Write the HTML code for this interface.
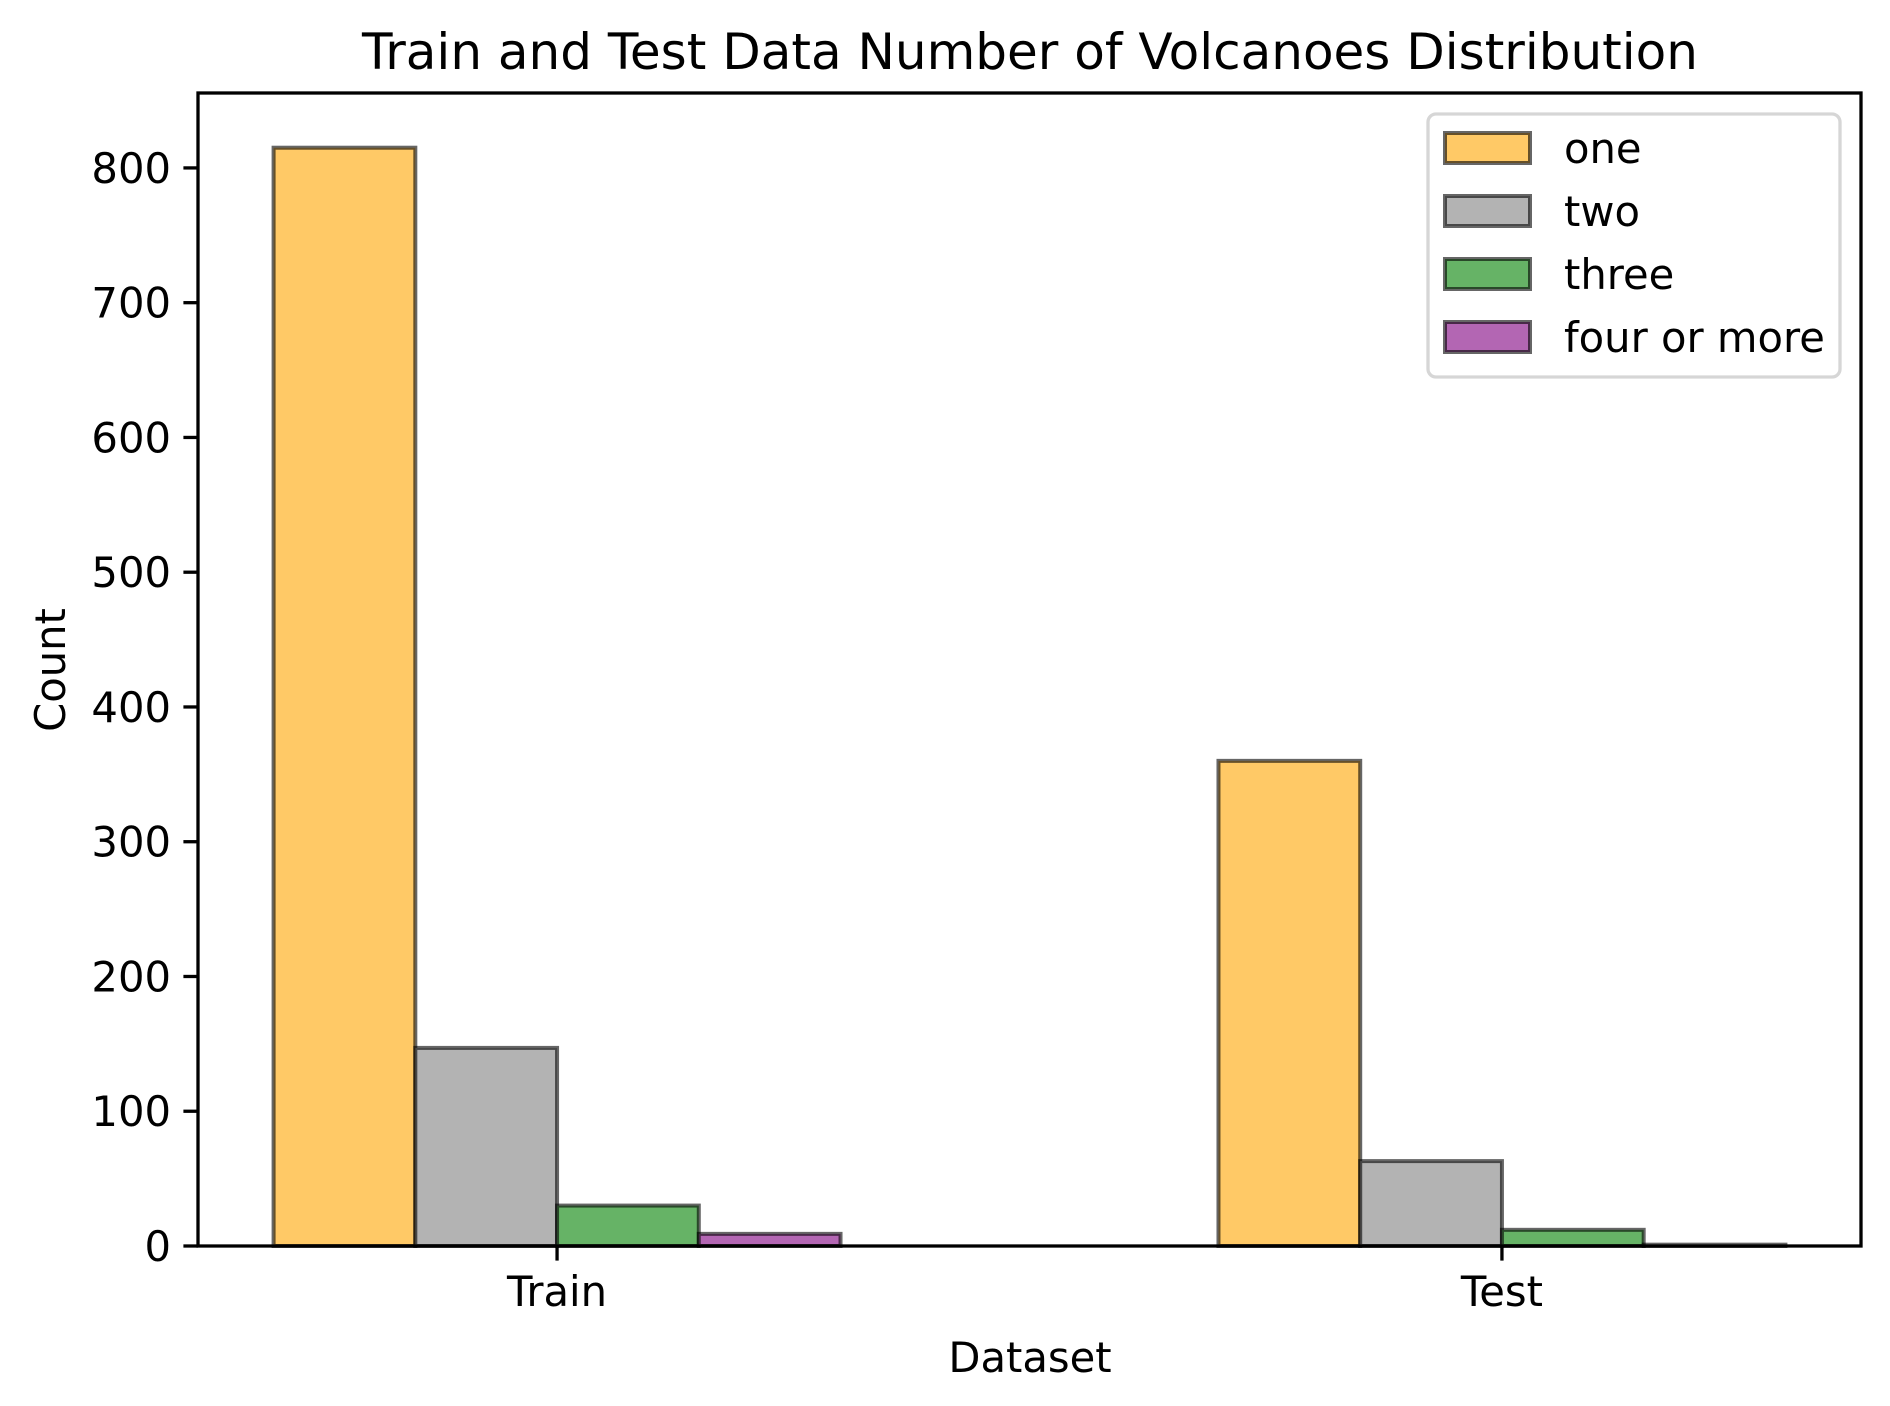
<!DOCTYPE html>
<html><head><meta charset="utf-8"><style>
html,body{margin:0;padding:0;background:#fff}
svg{display:block;font-family:"DejaVu Sans","Liberation Sans",sans-serif}
</style></head><body>
<svg id="chart" width="1890" height="1406" viewBox="0 0 1890 1406">
<text x="1030" y="69" font-size="50" text-anchor="middle">Train and Test Data Number of Volcanoes Distribution</text>
<g id="bars"></g>
<g id="yticks"></g>
<g id="xticks"></g>
<rect x="198" y="93" width="1663" height="1153" fill="none" stroke="#000" stroke-width="3.3"/>
<text x="1030" y="1372" font-size="41.7" text-anchor="middle">Dataset</text>
<text transform="translate(65,670) rotate(-90)" font-size="41.7" text-anchor="middle">Count</text>
<g id="legend">
<rect x="1428" y="114" width="412" height="263" rx="8" fill="#fff" fill-opacity="0.8" stroke="#d6d6d6" stroke-width="3.3"/>
</g>
</svg>
<script>
const categories = ["Train", "Test"];
const seriesNames = ["one", "two", "three", "four or more"];
const seriesOne = [815, 360];
const seriesTwo = [147, 63];
const seriesThree = [30, 12];
const seriesFour = [9, 1];
const yTicks = [0, 100, 200, 300, 400, 500, 600, 700, 800];

const allSeries = [seriesOne, seriesTwo, seriesThree, seriesFour];
const fills = ["#ffc966", "#b3b3b3", "#66b366", "#b366b3"];
const NS = "http://www.w3.org/2000/svg";
const plotLeft = 198, plotRight = 1861, plotTop = 93, plotBottom = 1246;
const xMin = -0.38, xMax = 1.38, yMax = 855.6, bw = 0.15;
const xs = v => plotLeft + (v - xMin) / (xMax - xMin) * (plotRight - plotLeft);
const ys = v => plotBottom - v / yMax * (plotBottom - plotTop);
function mk(tag, attrs, parent) {
  const e = document.createElementNS(NS, tag);
  for (const k in attrs) e.setAttribute(k, attrs[k]);
  parent.appendChild(e);
  return e;
}
const gBars = document.getElementById('bars');
allSeries.forEach((s, si) => {
  s.forEach((v, ci) => {
    const x0 = xs(ci + (si - 2) * bw), x1 = xs(ci + (si - 1) * bw);
    const r = mk('rect', {x: x0, y: ys(v), width: x1 - x0, height: ys(0) - ys(v), fill: fills[si], stroke: "rgba(0,0,0,0.6)", "stroke-width": 4}, gBars);
    
    
  });
});
const gY = document.getElementById('yticks');
yTicks.forEach(t => {
  const l = mk('line', {x1: plotLeft - 14.6, x2: plotLeft, y1: ys(t), y2: ys(t), stroke: "#000", "stroke-width": 3.3}, gY);
  
  
  const tx = mk('text', {x: plotLeft - 27, y: ys(t) + 15, "font-size": 41.7, "text-anchor": "end"}, gY);
  tx.textContent = t;
  
  
});
const gX = document.getElementById('xticks');
categories.forEach((c, i) => {
  const l = mk('line', {x1: xs(i), x2: xs(i), y1: plotBottom, y2: plotBottom + 14.6, stroke: "#000", "stroke-width": 3.3}, gX);
  
  
  const tx = mk('text', {x: xs(i), y: 1306, "font-size": 41.7, "text-anchor": "middle"}, gX);
  tx.textContent = c;
  
  
});
const gL = document.getElementById('legend');
seriesNames.forEach((n, i) => {
  const yy = 133 + i * 63;
  const p = mk('rect', {x: 1445, y: yy, width: 85, height: 30, fill: fills[i], stroke: "rgba(0,0,0,0.6)", "stroke-width": 4}, gL);
  
  
  const tx = mk('text', {x: 1564, y: yy + 30, "font-size": 41.7}, gL);
  tx.textContent = n;
  
  
});
</script>
</body></html>
